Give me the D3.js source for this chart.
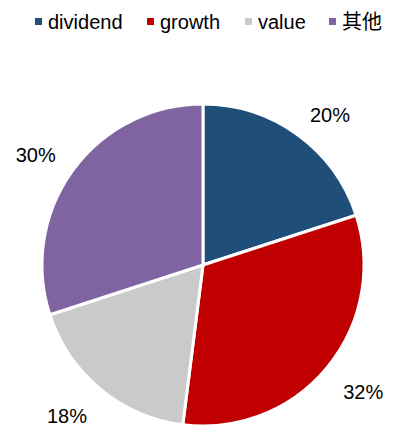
<!DOCTYPE html>
<html>
<head>
<meta charset="utf-8">
<script src="https://cdn.jsdelivr.net/npm/d3@7"></script>
<style>
  body { margin: 0; background: #fff; }
  svg { display: block; font-family: "Liberation Sans", Arial, sans-serif; }
</style>
</head>
<body>
<div id="chart"></div>
<script>
var width = 399,
    height = 438;

// data
var categories = ["dividend", "growth", "value", "其他"];
var values = [20, 32, 18, 30];
var colors = ["#1F4E79", "#C00000", "#CACACA", "#8064A2"];

var data = categories.map(function (c, i) { return { name: c, value: values[i] }; });

var cx = 203, cy = 265, radius = 161;

var svg = d3.select("#chart").append("svg")
    .attr("width", width)
    .attr("height", height);

var color = d3.scaleOrdinal().domain(categories).range(colors);

var pie = d3.pie()
    .sort(null)
    .value(function (d) { return d.value; });

var arc = d3.arc().innerRadius(0).outerRadius(radius);
// labels sit with their nearest corner on this ring, like Excel "outside end"
var labelArc = d3.arc().innerRadius(182).outerRadius(182);

var g = svg.append("g")
    .attr("transform", "translate(" + cx + "," + cy + ")");

var arcs = pie(data);

g.selectAll("path")
    .data(arcs)
    .join("path")
    .attr("d", arc)
    .attr("fill", function (d) { return color(d.data.name); })
    .attr("stroke", "#fff")
    .attr("stroke-width", 3)
    .attr("stroke-linejoin", "miter");

g.selectAll("text")
    .data(arcs)
    .join("text")
    .each(function (d) {
        var p = labelArc.centroid(d);
        d3.select(this)
            .attr("x", p[0])
            .attr("y", p[1] < 0 ? p[1] - 5 : p[1] + 9)
            .attr("text-anchor", p[0] >= 0 ? "start" : "end");
    })
    .attr("dy", "0.45em")
    .attr("font-size", 20)
    .attr("fill", "#000")
    .text(function (d) { return d.data.value + "%"; });

// legend
var legendX = [35, 147, 245, 329];
var legend = svg.append("g")
    .selectAll("g")
    .data(data)
    .join("g")
    .attr("transform", function (d, i) { return "translate(" + legendX[i] + ",22)"; });

legend.append("rect")
    .attr("x", 0)
    .attr("y", -4)
    .attr("width", 7)
    .attr("height", 7)
    .attr("fill", function (d) { return color(d.name); });

legend.append("text")
    .attr("x", 13)
    .attr("dy", "0.35em")
    .attr("font-size", 20)
    .attr("font-family", function (d) { return d.name === "其他" ? "'Noto Sans CJK SC', sans-serif" : null; })
    .attr("fill", "#000")
    .text(function (d) { return d.name; });
</script>
</body>
</html>
